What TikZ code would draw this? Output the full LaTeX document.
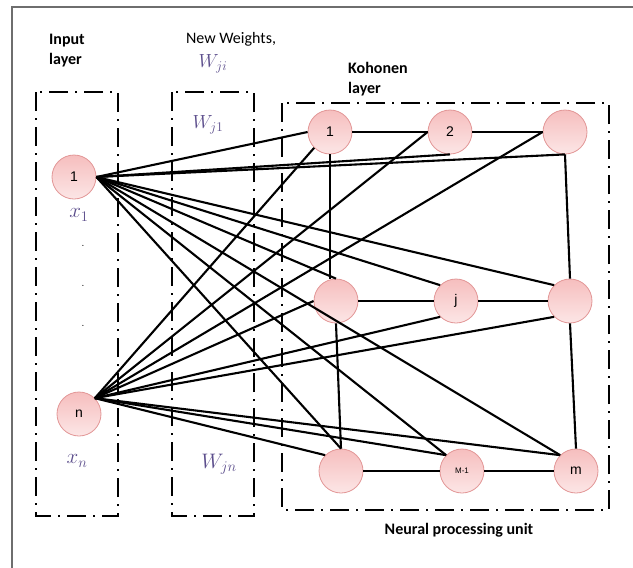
\RequirePackage{fix-cm}
\documentclass[tikz,border=0pt]{standalone}
\usepackage{fontspec}
\newfontfamily\carlito{Carlito}
\newfontfamily\arialf{Liberation Sans}
\definecolor{nodeborder}{RGB}{226,150,150}
\definecolor{nodetop}{RGB}{246,190,190}
\definecolor{nodebot}{RGB}{252,230,230}
\definecolor{mathcol}{RGB}{92,78,140}
\definecolor{framegray}{RGB}{110,110,110}
\tikzset{
  neuron/.style={circle, draw=nodeborder, line width=0.8pt, top color=nodetop, bottom color=nodebot, minimum size=44pt, inner sep=0pt, font=\arialf\fontsize{14}{14}\selectfont},
  layerbox/.style={draw=black, line width=2pt, dash pattern=on 19pt off 7pt on 2pt off 7pt},
  conn/.style={draw=black, line width=2.1pt},
  boldlabel/.style={font=\carlito\bfseries\fontsize{16}{20}\selectfont, align=left, inner sep=0pt},
  plainlabel/.style={font=\carlito\fontsize{16}{20}\selectfont, inner sep=0pt},
  mathlabel/.style={text=mathcol, inner sep=0pt, font=\fontsize{19}{19}\selectfont},
  dotlabel/.style={inner sep=0pt, font=\fontsize{12}{12}\selectfont}
}
\begin{document}
\begin{tikzpicture}[x=1pt,y=-1pt]
\useasboundingbox (0,0) rectangle (633,568);
% outer frame (left and top)
\coordinate (ftl) at (12,7);
\coordinate (ftr) at (633,7);
\coordinate (fbl) at (12,568);
\draw[framegray, line width=1.5pt] (fbl) -- (ftl) -- (ftr);
% layer boxes
\draw[layerbox] (36,92) rectangle (118,516);
\draw[layerbox] (172,92) rectangle (254,516);
\draw[layerbox] (282,103) rectangle (609,510);
% labels
\node[boldlabel, anchor=north west] (lin) at (49,34) {Input\\layer};
\node[plainlabel] (lnw) at (231,39) {New Weights,};
\node[mathlabel] (lwji) at (213,64) {$W_{ji}$};
\node[boldlabel, anchor=north west] (lko) at (348,62) {Kohonen\\layer};
\node[mathlabel] (lwj1) at (208,125) {$W_{j1}$};
\node[mathlabel, font=\fontsize{21}{21}\selectfont] (lx1) at (79,215) {$x_1$};
\node[dotlabel] (d1) at (83,246) {.};
\node[dotlabel] (d2) at (83,286) {.};
\node[dotlabel] (d3) at (83,326) {.};
\node[mathlabel, font=\fontsize{21}{21}\selectfont] (lxn) at (77,461) {$x_n$};
\node[mathlabel, font=\fontsize{21}{21}\selectfont] (lwjn) at (219,464) {$W_{jn}$};
\node[boldlabel] (lnpu) at (459,530) {Neural processing unit};
% neurons
\node[neuron] (i1) at (74,177) {1};
\node[neuron] (in) at (79,414) {n};
\node[neuron] (k1) at (330,132) {1};
\node[neuron] (k2) at (450,132) {2};
\node[neuron] (k3) at (565,132) {};
\node[neuron] (ml) at (336,301) {};
\node[neuron] (kj) at (456,301) {j};
\node[neuron] (mr) at (570,301) {};
\node[neuron] (bl) at (341,471) {};
\node[neuron, font=\arialf\fontsize{8}{8}\selectfont] (km1) at (462,471) {M-1};
\node[neuron] (km) at (576,471) {m};
% input 1 connections
\draw[conn] (i1.east) -- (k1.west);
\draw[conn] (i1.east) -- (k2.south);
\draw[conn] (i1.east) -- (k3.south);
\draw[conn] (i1.east) -- (ml.north);
\draw[conn] (i1.east) -- (kj.north west);
\draw[conn] (i1.east) -- (mr.north west);
\draw[conn] (i1.east) -- (bl.north);
\draw[conn] (i1.east) -- (km1.north west);
\draw[conn] (i1.east) -- (km.north west);
% input n connections
\draw[conn] (in.north east) -- (k1.south west);
\draw[conn] (in.north east) -- (k2.west);
\draw[conn] (in.north east) -- (k3.west);
\draw[conn] (in.north east) -- (ml.west);
\draw[conn] (in.north east) -- (kj.south west);
\draw[conn] (in.north east) -- (mr.south west);
\draw[conn] (in.north east) -- (bl.north west);
\draw[conn] (in.north east) -- (km1.north west);
\draw[conn] (in.north east) -- (km.north west);
% Kohonen lattice
\draw[conn] (k1.east) -- (k2.west);
\draw[conn] (k2.east) -- (k3.west);
\draw[conn] (ml.east) -- (kj.west);
\draw[conn] (kj.east) -- (mr.west);
\draw[conn] (bl.east) -- (km1.west);
\draw[conn] (km1.east) -- (km.west);
\draw[conn] (k1.south) -- (k1.south |- ml.north);
\draw[conn] (ml.south) -- (bl.north);
\draw[conn] (k3.south) -- (mr.north);
\draw[conn] (mr.south) -- (km.north);
\end{tikzpicture}
\end{document}
